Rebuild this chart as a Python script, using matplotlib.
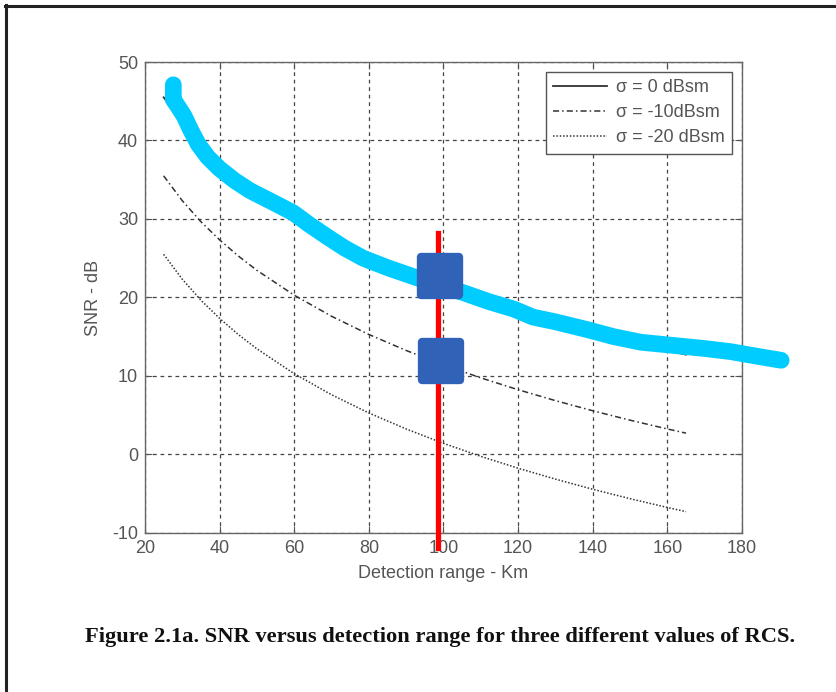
import matplotlib
matplotlib.use("Agg")
import matplotlib.pyplot as plt
from matplotlib.lines import Line2D
from matplotlib.markers import MarkerStyle

plt.rcParams['font.family'] = ['Liberation Sans', 'DejaVu Sans']
plt.rcParams['axes.unicode_minus'] = False

# detection range (km) and SNR (dB)
range_km = [25, 30, 35, 40, 45, 50, 60, 70, 80, 90, 100, 110, 120, 130, 140, 150, 160, 165]
snr_0dbsm = [45.5, 42.33, 39.65, 37.34, 35.29, 33.46, 30.29, 27.61, 25.29, 23.25, 21.42,
             19.76, 18.25, 16.86, 15.57, 14.37, 13.25, 12.72]
snr_m10dbsm = [35.5, 32.33, 29.65, 27.34, 25.29, 23.46, 20.29, 17.61, 15.29, 13.25, 11.42,
               9.76, 8.25, 6.86, 5.57, 4.37, 3.25, 2.72]
snr_m20dbsm = [25.5, 22.33, 19.65, 17.34, 15.29, 13.46, 10.29, 7.61, 5.29, 3.25, 1.42,
               -0.24, -1.75, -3.14, -4.43, -5.63, -6.75, -7.28]
labels = ["σ = 0 dBsm", "σ = -10dBsm", "σ = -20 dBsm"]

# hand drawn highlight stroke
hl_x = [27.6, 27.6, 28.9, 30.5, 32.3, 34.3, 36.8, 40.0, 44.0, 48.2, 54.0, 59.7, 64.0, 68.8,
        73.5, 78.5, 85.0, 92.0, 98.5, 105.4, 112.0, 119.0, 124.0, 130.0, 138.6, 145.7,
        152.9, 163.6, 170.0, 177.0, 184.2, 190.5]
hl_y = [47.1, 45.2, 44.3, 43.1, 41.3, 39.5, 37.9, 36.4, 34.9, 33.6, 32.2, 30.8, 29.3, 27.75,
        26.3, 25.0, 23.8, 22.65, 21.6, 20.6, 19.5, 18.5, 17.5, 16.9, 15.9, 15.0,
        14.3, 13.8, 13.5, 13.1, 12.5, 12.0]

# red marker line and the two squares
mark_x = 98.6
mark_y = [28.2, -11.9]
sq_x = [99.2, 99.3]
sq_y = [22.7, 11.85]

fig = plt.figure(figsize=(8.37, 6.92), dpi=100)
ax = fig.add_axes([0.1732, 0.2298, 0.7133, 0.6806])

lc = '#333333'
ax.plot(range_km, snr_0dbsm, color=lc, lw=1.3, ls='-', label=labels[0])
ax.plot(range_km, snr_m10dbsm, color=lc, lw=1.1, ls=(0, (4, 2, 1, 2)), label=labels[1])
ax.plot(range_km, snr_m20dbsm, color=lc, lw=1.1, ls=(0, (1, 1.2)), label=labels[2])

ax.plot(hl_x, hl_y, color='#00CCFF', lw=12, solid_capstyle='round',
        solid_joinstyle='round', clip_on=False, zorder=5)
ax.plot([mark_x, mark_x], mark_y, color='#FF0000', lw=3.8, clip_on=False, zorder=6)
sq = MarkerStyle('s', joinstyle='round')
ax.plot(sq_x, sq_y, ls='none', marker=sq, markersize=27, color='#3063B8',
        markeredgecolor='#3063B8', markeredgewidth=6, zorder=7, clip_on=False)

ax.set_xlim(20, 180)
ax.set_ylim(-10, 50)
ax.set_xticks(range(20, 181, 20))
ax.set_yticks(range(-10, 51, 10))
ax.grid(True, color='#444444', lw=0.9, ls=(0, (3, 3)))
ax.tick_params(direction='in', length=5, top=True, right=True, labelsize=13,
               colors='#555555', pad=5)
for s in ax.spines.values():
    s.set_color('#666666')
    s.set_linewidth(1)

ax.set_xlabel("Detection range - Km", fontsize=13, color='#555555', labelpad=6)
ax.set_ylabel("SNR - dB", fontsize=13, color='#555555', labelpad=7)

leg = ax.legend(loc='upper right', fontsize=13, fancybox=False, framealpha=1,
                edgecolor='#555555', handlelength=3.0, handletextpad=0.5,
                labelspacing=0.45, borderaxespad=0.55, borderpad=0.4)
leg.get_frame().set_linewidth(1)
for t in leg.get_texts():
    t.set_color('#555555')

fig.text(440 / 837, 1 - 637 / 692, "Figure 2.1a. SNR versus detection range for three different values of RCS.",
         ha='center', va='center', fontsize=16.2, fontweight='bold',
         family=['Liberation Serif', 'DejaVu Serif'], color='#111111')

# page frame (top and left edges)
fig.add_artist(Line2D([5 / 837, 1.0], [1 - 6 / 692, 1 - 6 / 692], color='#222222', lw=2.2))
fig.add_artist(Line2D([6 / 837, 6 / 837], [0.0, 1 - 5 / 692], color='#222222', lw=2.2))

fig.savefig("out.png", dpi=100)
